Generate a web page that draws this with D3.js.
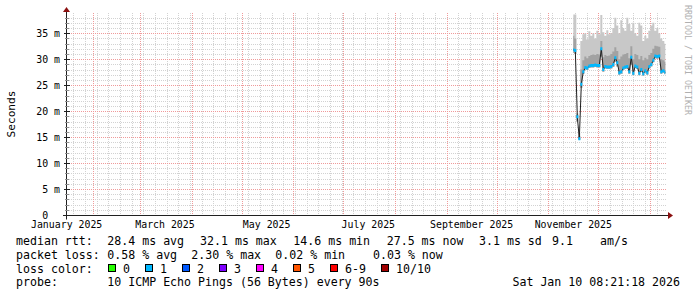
<!DOCTYPE html>
<html>
<head>
<meta charset="utf-8">
<script src="https://cdn.jsdelivr.net/npm/d3@7"></script>
<style>
body { margin: 0; background: #fff; }
text { font-family: "DejaVu Sans Mono", monospace; white-space: pre; }
</style>
</head>
<body>
<div id="chart"></div>
<script>
// axis range (the graph covers a bit less than a year)
const axis_start = new Date(Date.UTC(2025, 0, 16, 5));
const axis_end = new Date(Date.UTC(2026, 0, 11, 5));
const y_max = 38.9;

const y_ticks = [0, 5, 10, 15, 20, 25, 30, 35];
const y_tick_labels = ["0  ", "5 m", "10 m", "15 m", "20 m", "25 m", "30 m", "35 m"];
const month_labels = [
    { month: new Date(Date.UTC(2025, 0, 1)), text: "January 2025" },
    { month: new Date(Date.UTC(2025, 2, 1)), text: "March 2025" },
    { month: new Date(Date.UTC(2025, 4, 1)), text: "May 2025" },
    { month: new Date(Date.UTC(2025, 6, 1)), text: "July 2025" },
    { month: new Date(Date.UTC(2025, 8, 1)), text: "September 2025" },
    { month: new Date(Date.UTC(2025, 10, 1)), text: "November 2025" },
];

// measurements, one sample every 1.2 days starting 16 Nov 2025 (ms)
const series_start = Date.UTC(2025, 10, 16);
const step_days = 1.2;
const median = [31.8, 31.7, 18.9, 14.7, 25.2, 27.6, 28.4, 28.3, 28.7, 28.8,
    28.8, 28.9, 28.8, 28.8, 32.0, 28.0, 28.6, 28.5, 28.5, 28.6,
    29.0, 30.3, 29.3, 27.4, 27.6, 28.3, 28.5, 28.6, 27.6, 30.4,
    27.3, 28.7, 28.5, 27.3, 28.0, 27.2, 27.8, 27.4, 28.6, 29.0,
    29.8, 30.6, 30.5, 30.6, 27.6, 27.8, 27.5];
const smoke_min = [31.2, 31.0, 18.0, 14.5, 24.5, 27.2, 28.0, 27.9, 28.3, 28.4,
    28.4, 28.5, 28.4, 28.4, 30.5, 27.6, 28.2, 28.1, 28.1, 28.2,
    28.5, 29.5, 28.6, 27.0, 27.2, 27.9, 28.1, 28.2, 27.2, 29.0,
    26.9, 28.3, 28.1, 26.9, 27.6, 26.8, 27.4, 27.0, 28.2, 28.6,
    29.4, 30.2, 30.1, 30.2, 27.2, 27.4, 27.1];
const smoke_mid = [34.5, 34.0, 19.3, 15.2, 28.0, 29.8, 30.5, 30.2, 30.6, 30.8,
    30.9, 30.8, 31.0, 30.9, 33.5, 30.4, 30.8, 30.6, 30.7, 31.0,
    31.5, 32.3, 31.6, 30.0, 30.5, 30.9, 31.0, 31.2, 30.2, 32.5,
    30.0, 31.0, 30.8, 30.0, 30.6, 29.8, 30.3, 30.0, 30.8, 31.2,
    32.0, 32.6, 32.5, 32.4, 30.0, 29.8, 29.5];
const smoke_max = [38.6, 38.6, 19.6, 15.8, 33.5, 34.8, 35.0, 33.8, 35.4, 34.5,
    35.0, 34.0, 35.5, 34.8, 38.5, 35.2, 34.5, 35.6, 34.8, 35.0,
    36.0, 38.0, 36.5, 35.0, 37.5, 36.0, 35.5, 38.0, 36.8, 35.5,
    37.0, 35.0, 34.5, 37.0, 36.5, 33.5, 34.5, 34.0, 35.5, 36.5,
    37.0, 35.5, 36.0, 35.0, 34.0, 33.5, 33.0];

// legend
const stat_rows = [
    [["median rtt:", 16], ["28.4 ms avg", 107.3], ["32.1 ms max", 200], ["14.6 ms min", 293.3], ["27.5 ms now", 386.7], ["3.1 ms sd", 479], ["9.1", 552], ["am/s", 600]],
    [["packet loss:", 16], ["0.58 % avg", 107.3], ["2.30 % max", 191.3], ["0.02 % min", 275.3], ["0.03 % now", 373]],
];
const loss_names = ["0", "1", "2", "3", "4", "5", "6-9", "10/10"];
const loss_colors = ["#26ff00", "#00b8ff", "#0059ff", "#7e00ff", "#ff00ff", "#ff5500", "#ff0000", "#a10000"];
const probe_text = "10 ICMP Echo Pings (56 Bytes) every 90s";
const stamp_text = "Sat Jan 10 08:21:18 2026";

const margin = { top: 13, right: 30, bottom: 82, left: 67 };
const W = 697, H = 297;
const width = W - margin.left - margin.right;
const height = H - margin.top - margin.bottom;

const svg = d3.select("#chart").append("svg")
    .attr("width", W)
    .attr("height", H)
    .style("display", "block");

const x = d3.scaleUtc().domain([axis_start, axis_end]).range([margin.left, margin.left + width]);
const y = d3.scaleLinear().domain([0, y_max]).range([margin.top + height, margin.top]);

const data = median.map((m, i) => ({
    date: new Date(series_start + i * step_days * 864e5),
    median: m,
    lo: smoke_min[i],
    mid: smoke_mid[i],
    hi: smoke_max[i]
}));

const px = v => Math.round(v) + 0.5;

// grid
const g_grid = svg.append("g");
d3.range(1, 39).filter(v => v % 5 !== 0).forEach(v => {
    g_grid.append("line")
        .attr("x1", margin.left).attr("x2", margin.left + width)
        .attr("y1", px(y(v))).attr("y2", px(y(v)))
        .attr("stroke", "#d2d2d2").attr("stroke-dasharray", "1,1");
});
d3.utcMonday.range(axis_start, axis_end).forEach(d => {
    g_grid.append("line")
        .attr("x1", px(x(d))).attr("x2", px(x(d)))
        .attr("y1", margin.top).attr("y2", margin.top + height)
        .attr("stroke", "#d2d2d2").attr("stroke-dasharray", "1,1");
});
y_ticks.filter(v => v > 0).forEach(v => {
    g_grid.append("line")
        .attr("x1", margin.left).attr("x2", margin.left + width)
        .attr("y1", px(y(v))).attr("y2", px(y(v)))
        .attr("stroke", "#f09a9a").attr("stroke-dasharray", "1,1");
});
d3.utcMonth.range(axis_start, axis_end).forEach(d => {
    g_grid.append("line")
        .attr("x1", px(x(d))).attr("x2", px(x(d)))
        .attr("y1", margin.top).attr("y2", margin.top + height)
        .attr("stroke", "#f09a9a").attr("stroke-dasharray", "1,1");
});

// smoke
const smoke = (top) => d3.area()
    .x(d => x(d.date))
    .y0(d => y(d.lo))
    .y1(d => y(d[top]))
    .curve(d3.curveStep);

svg.append("path").datum(data).attr("d", smoke("hi")).attr("fill", "#c8c8c8");
svg.append("path").datum(data).attr("d", smoke("mid")).attr("fill", "#a2a2a2");

// median line, then loss colour band on top
svg.append("path").datum(data)
    .attr("fill", "none")
    .attr("stroke", "#202020")
    .attr("stroke-width", 1)
    .attr("d", d3.line().x(d => x(d.date)).y(d => y(d.median)));

svg.append("path").datum(data)
    .attr("fill", loss_colors[1])
    .attr("d", d3.area()
        .x(d => x(d.date))
        .y0(d => y(d.median) + 1.5)
        .y1(d => y(d.median) - 1.5)
        .curve(d3.curveStep));

// axes
const axis_y0 = px(y(0));
svg.append("line")
    .attr("x1", margin.left - 4).attr("x2", margin.left + width + 2)
    .attr("y1", axis_y0).attr("y2", axis_y0)
    .attr("stroke", "#202020");
svg.append("line")
    .attr("x1", margin.left - 0.5).attr("x2", margin.left - 0.5)
    .attr("y1", axis_y0 + 4).attr("y2", margin.top - 2)
    .attr("stroke", "#202020");
svg.append("path")
    .attr("d", `M${margin.left + width + 1},${axis_y0 - 3.5}L${margin.left + width + 6},${axis_y0}L${margin.left + width + 1},${axis_y0 + 3.5}Z`)
    .attr("fill", "#8b1010");
svg.append("path")
    .attr("d", `M${margin.left - 4},${margin.top - 1}L${margin.left - 0.5},${margin.top - 6}L${margin.left + 3},${margin.top - 1}Z`)
    .attr("fill", "#8b1010");

// y ticks
d3.range(0, 39).forEach(v => {
    const major = v % 5 === 0;
    svg.append("line")
        .attr("x1", margin.left - (major ? 3 : 2)).attr("x2", margin.left + (major ? 3 : 2))
        .attr("y1", px(y(v))).attr("y2", px(y(v)))
        .attr("stroke", major ? "#202020" : "#909090");
});

// tick labels
y_ticks.forEach((v, i) => {
    svg.append("text")
        .attr("x", margin.left - 7)
        .attr("y", y(v) + 3.5)
        .attr("text-anchor", "end")
        .style("font-size", "9.9px")
        .text(y_tick_labels[i]);
});
month_labels.forEach(m => {
    svg.append("text")
        .attr("x", x(d3.utcDay.offset(m.month, 15)))
        .attr("y", 228)
        .attr("text-anchor", "middle")
        .style("font-size", "9.9px")
        .text(m.text);
});

svg.append("text")
    .attr("transform", `translate(15,${margin.top + height / 2}) rotate(-90)`)
    .attr("text-anchor", "middle")
    .style("font-size", "11.2px")
    .text("Seconds");

svg.append("text")
    .attr("transform", `translate(685,5) rotate(90)`)
    .attr("text-anchor", "start")
    .style("font-size", "8.3px")
    .attr("fill", "#b0b0b0")
    .text("RRDTOOL / TOBI OETIKER");

// legend rows
const legend_size = "11.6px";
stat_rows.forEach((row, r) => {
    row.forEach(([t, lx]) => {
        svg.append("text")
            .attr("x", lx).attr("y", 245 + r * 13.7)
            .style("font-size", legend_size)
            .text(t);
    });
});

svg.append("text").attr("x", 16).attr("y", 272.5).style("font-size", legend_size).text("loss color:");
let bx = 108;
loss_names.forEach((n, i) => {
    svg.append("rect")
        .attr("x", bx + 0.5).attr("y", 264.5)
        .attr("width", 7).attr("height", 7)
        .attr("fill", loss_colors[i])
        .attr("stroke", "#000");
    svg.append("text").attr("x", bx + 15).attr("y", 272.5).style("font-size", legend_size).text(n);
    bx += 30 + n.length * 7;
});

svg.append("text").attr("x", 16).attr("y", 286).style("font-size", legend_size).text("probe:");
svg.append("text").attr("x", 107.3).attr("y", 286).style("font-size", legend_size).text(probe_text);
svg.append("text").attr("x", 680).attr("y", 286).attr("text-anchor", "end").style("font-size", legend_size).text(stamp_text);
</script>
</body>
</html>
